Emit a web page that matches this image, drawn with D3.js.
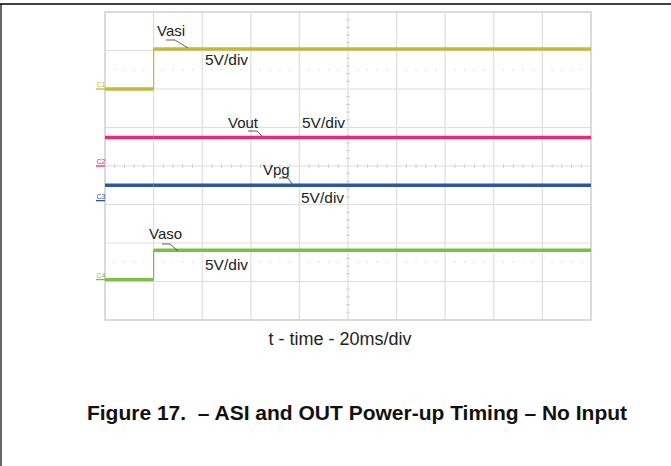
<!DOCTYPE html>
<html><head><meta charset="utf-8">
<script src="https://cdn.jsdelivr.net/npm/d3@7"></script>
<style>html,body{margin:0;padding:0;background:#fff;}svg{display:block;}</style>
</head><body>
<svg id="c" width="671" height="466"></svg>
<script>
// ---- data ----
const timeMs = [0, 20, 200];                 // sample times (ms), 20 ms/div
const channels = ["Vasi", "Vout", "Vpg", "Vaso"];
const channelIds = ["C1", "C2", "C3", "C4"];
const groundDiv = [2.0, 0, -0.9, -2.95];     // channel ground reference (divisions)
const voltsPerDiv = [5, 5, 5, 5];
const vasi = [0, 5.2, 5.2];
const vout = [3.7, 3.7, 3.7];
const vpg  = [2.0, 2.0, 2.0];
const vaso = [0, 3.8, 3.8];
const seriesValues = [vasi, vout, vpg, vaso];
const scaleLabels = ["5V/div", "5V/div", "5V/div", "5V/div"];
const xLabel = "t - time - 20ms/div";
const caption = "Figure 17.  \u2013 ASI and OUT Power-up Timing \u2013 No Input";
const colors = ["#C8B838", "#E8287A", "#2C57A8", "#7BBF46"];

// ---- layout ----
const svg = d3.select("#c");
const L = 105, R = 591, T = 12, B = 320;
const x = d3.scaleLinear().domain([0, 200]).range([L, R]);
const y = d3.scaleLinear().domain([-4, 4]).range([B, T]);
const font = "Arial, 'Liberation Sans', sans-serif";

// page frame
svg.append("line").attr("x1", 0).attr("x2", 671).attr("y1", 4).attr("y2", 4)
  .attr("stroke", "#000").attr("stroke-width", 1.5);
svg.append("line").attr("x1", 1).attr("x2", 1).attr("y1", 4).attr("y2", 466)
  .attr("stroke", "#000").attr("stroke-width", 1.2);

// grid
const g = svg.append("g");
const xt = d3.range(0, 201, 20), yt = d3.range(-4, 4.01, 1);
g.selectAll(".vg").data(xt).join("line")
  .attr("x1", d => x(d)).attr("x2", d => x(d)).attr("y1", T).attr("y2", B)
  .attr("stroke", "#dedede").attr("stroke-width", 1.2);
g.selectAll(".hg").data(yt).join("line")
  .attr("x1", L).attr("x2", R).attr("y1", d => y(d)).attr("y2", d => y(d))
  .attr("stroke", "#dedede").attr("stroke-width", 1.2);
g.append("rect").attr("x", L).attr("y", T).attr("width", R - L).attr("height", B - T)
  .attr("fill", "none").attr("stroke", "#d2d2d2").attr("stroke-width", 1.3);

// minor ticks on center axes
const minorX = d3.range(0, 200.01, 4).filter(d => d % 20 !== 0);
g.selectAll(".mx").data(minorX).join("line")
  .attr("x1", d => x(d)).attr("x2", d => x(d)).attr("y1", y(0) - 2).attr("y2", y(0) + 2)
  .attr("stroke", "#d0d0d0");
const minorY = d3.range(-4, 4.01, 0.2).filter(d => Math.abs(d - Math.round(d)) > 0.01);
g.selectAll(".my").data(minorY).join("line")
  .attr("x1", x(100) - 2).attr("x2", x(100) + 2).attr("y1", d => y(d)).attr("y2", d => y(d))
  .attr("stroke", "#d0d0d0");
// dotted reference rows
[2.5, -2.5].forEach(lv => {
  g.selectAll(null).data(minorX).join("rect")
    .attr("x", d => x(d) - 0.6).attr("y", y(lv) - 0.6).attr("width", 1.2).attr("height", 1.2)
    .attr("fill", "#d4d4d4");
});

// traces
channels.forEach((name, i) => {
  const vals = seriesValues[i];
  const yy = v => y(groundDiv[i] + v / voltsPerDiv[i]);
  const segs = d3.range(timeMs.length - 1).map(k => ({t0: timeMs[k], t1: timeMs[k + 1], v: vals[k]}));
  const edges = d3.range(1, timeMs.length - 1).map(k => ({t: timeMs[k], a: vals[k - 1], b: vals[k]}))
    .filter(e => e.a !== e.b);
  svg.append("g").selectAll("line").data(edges).join("line")
    .attr("x1", e => x(e.t)).attr("x2", e => x(e.t)).attr("y1", e => yy(e.a)).attr("y2", e => yy(e.b))
    .attr("stroke", colors[i]).attr("stroke-width", 1.2);
  svg.append("g").selectAll("line").data(segs).join("line")
    .attr("x1", s => x(s.t0)).attr("x2", s => x(s.t1)).attr("y1", s => yy(s.v)).attr("y2", s => yy(s.v))
    .attr("stroke", colors[i]).attr("stroke-width", 3.4);
  // channel ground marker
  const gy = y(groundDiv[i]);
  svg.append("text").attr("x", 96.5).attr("y", gy - 2).text(channelIds[i])
    .attr("font-family", font).attr("font-size", 7).attr("fill", colors[i]);
  svg.append("line").attr("x1", 96).attr("x2", 105).attr("y1", gy).attr("y2", gy)
    .attr("stroke", colors[i]).attr("stroke-width", 1.3);
});

// annotations
const ann = [
  {name: 0, tx: 157, ty: 36, lead: [[166, 40], [175, 40], [188, 48]], sx: 205, sy: 65},
  {name: 1, tx: 228, ty: 128, lead: [[248, 131], [257, 131], [262, 136]], sx: 302, sy: 128},
  {name: 2, tx: 263, ty: 175, lead: [[279, 178], [288, 178], [292, 184]], sx: 301, sy: 203},
  {name: 3, tx: 149, ty: 239, lead: [[162, 244], [170, 244], [178, 251]], sx: 205, sy: 270}
];
ann.forEach(a => {
  svg.append("text").attr("x", a.tx).attr("y", a.ty).text(channels[a.name])
    .attr("font-family", font).attr("font-size", 15).attr("fill", "#222");
  svg.append("path").attr("d", d3.line()(a.lead)).attr("fill", "none")
    .attr("stroke", "#333").attr("stroke-width", 0.8);
  svg.append("text").attr("x", a.sx).attr("y", a.sy).text(scaleLabels[a.name])
    .attr("font-family", font).attr("font-size", 15.5).attr("fill", "#222");
});

// axis label and caption
svg.append("text").attr("x", 340).attr("y", 345).attr("text-anchor", "middle")
  .text(xLabel).attr("font-family", font).attr("font-size", 18).attr("fill", "#222");
svg.append("text").attr("x", 357).attr("y", 420).attr("text-anchor", "middle")
  .style("white-space", "pre")
  .text(caption).attr("font-family", font).attr("font-size", 21).attr("font-weight", "bold").attr("fill", "#111");
</script>
</body></html>
